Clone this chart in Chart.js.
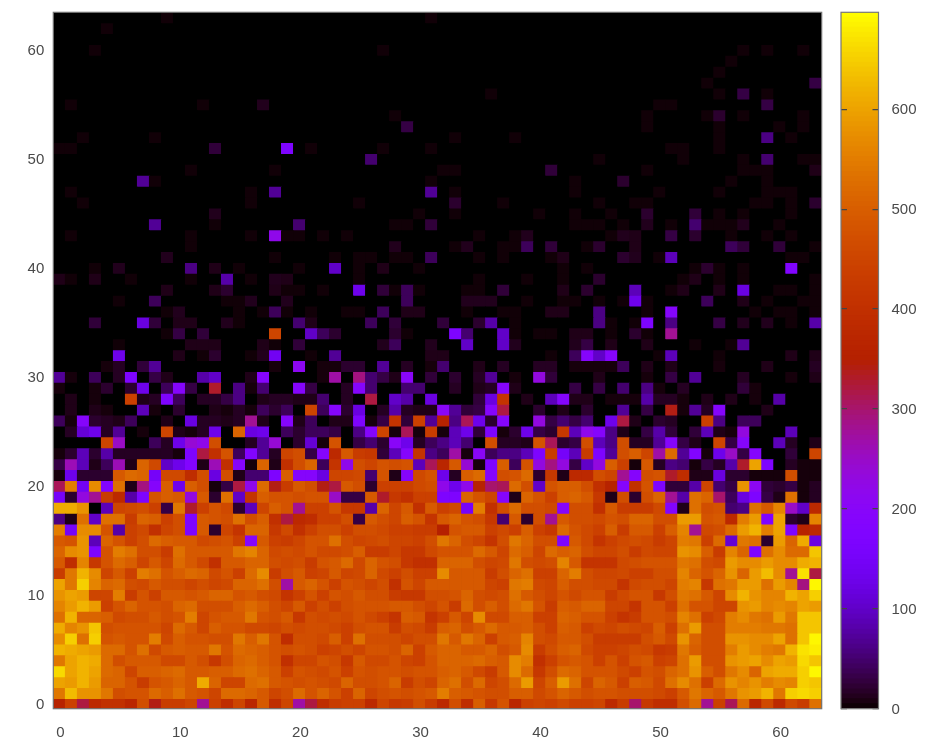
<!DOCTYPE html>
<html><head><meta charset="utf-8">
<script src="https://cdn.jsdelivr.net/npm/chart.js@4"></script>
<style>
html,body{margin:0;padding:0;background:#fff;overflow:hidden}
#wrap{position:relative;width:928px;height:739px}
canvas{position:absolute;top:0;filter:blur(0.6px)}
#main{left:0}
#bar{left:830px}
</style></head><body>
<div id="wrap"><canvas id="main" width="928" height="739"></canvas><canvas id="bar" width="98" height="739"></canvas></div>
<script>
const row0=[360,440,320,380,400,400,370,470,340,430,430,450,280,440,390,450,370,490,390,450,270,320,
390,430,440,440,380,450,420,430,470,430,380,470,390,500,420,480,370,440,450,440,460,440,
440,450,380,430,300,420,390,390,470,520,280,440,310,520,370,460,380,460,430,530];
const row1=[540,630,580,580,540,470,480,480,520,500,530,490,480,450,520,520,510,490,450,470,520,480,
510,480,440,510,450,470,480,470,480,490,550,500,490,480,470,470,500,500,460,480,510,490,
470,480,480,470,470,470,460,440,490,540,510,490,540,580,590,620,540,650,660,650];
const row2=[600,590,620,590,510,510,480,430,480,490,510,490,610,510,450,450,520,530,490,480,470,480,
470,460,510,470,470,480,510,430,470,450,510,530,470,520,450,470,520,590,450,500,590,530,
450,510,490,440,500,490,460,530,570,530,440,520,580,560,580,550,570,560,650,640];
const row3=[660,600,620,600,520,510,450,500,500,510,520,490,490,500,500,520,530,510,490,440,480,470,
460,480,440,480,470,480,480,470,480,480,500,510,490,460,430,490,570,520,420,470,520,510,
480,480,480,460,440,480,470,510,530,580,500,470,540,570,510,600,610,610,650,690];
const row4=[540,600,620,610,520,470,490,490,490,460,460,490,470,420,470,510,520,500,480,400,450,450,
480,470,420,490,460,460,480,450,440,480,510,510,510,520,500,490,570,550,400,440,480,490,
480,440,480,440,480,490,440,450,530,590,470,470,580,590,600,570,600,590,660,640];
const row5=[620,610,600,590,520,520,480,530,460,490,500,490,490,540,480,520,510,500,480,470,480,470,
440,450,470,450,480,480,470,510,440,490,510,510,490,490,510,470,490,570,430,470,500,510,
460,440,440,450,470,460,420,430,540,500,470,470,550,590,570,550,540,620,670,680];
const row6=[570,650,530,650,480,490,480,480,550,460,500,480,480,470,470,540,500,540,480,390,470,470,
460,500,440,530,470,470,470,450,470,470,540,490,540,510,440,490,500,560,470,460,490,490,
470,430,430,430,430,470,490,460,580,510,470,470,580,580,570,570,600,530,640,690];
const row7=[610,560,580,640,470,480,480,480,480,450,520,490,450,500,480,480,460,460,450,470,460,470,
470,460,440,470,480,480,430,470,460,430,500,510,470,490,520,490,490,500,470,440,500,490,
440,460,450,470,460,450,500,440,530,590,470,470,550,550,550,540,540,530,640,640];
const row8=[530,620,510,510,500,460,470,470,490,470,480,550,450,480,490,490,540,480,470,490,420,470,
460,470,460,480,460,440,410,500,490,410,440,490,450,570,460,460,500,500,440,440,510,500,
480,480,440,410,430,480,480,470,560,530,440,460,550,570,540,530,590,540,640,640];
const row9=[560,590,620,590,440,480,510,480,480,470,510,520,470,470,470,500,520,500,470,450,490,440,
470,440,470,480,480,480,490,490,470,450,480,430,520,470,500,470,520,540,480,430,500,490,
510,510,450,450,410,480,480,440,530,480,480,450,450,580,590,560,570,560,600,590];
const row10=[580,600,590,450,450,550,430,480,440,490,490,480,490,510,510,480,490,470,460,410,440,480,
440,480,470,490,470,470,430,420,420,470,470,480,510,470,460,470,530,490,470,450,480,460,
480,480,430,460,480,480,420,470,540,530,490,450,570,620,580,560,560,620,600,650];
const row11=[600,540,650,560,510,520,470,460,490,470,470,450,470,450,460,510,510,530,470,270,490,510,
480,440,480,470,450,470,400,480,450,490,490,490,490,490,450,440,540,550,460,450,500,470,
470,460,460,410,460,470,470,450,550,560,420,530,540,590,590,530,590,560,290,690];
const row12=[430,540,620,570,450,490,440,550,530,480,500,520,510,460,480,440,520,570,430,470,490,440,
450,490,450,460,510,460,440,470,440,440,570,490,490,490,430,470,510,530,440,440,510,550,
470,450,450,460,440,440,470,470,560,510,480,510,580,510,590,630,570,280,670,320];
const row13=[490,390,560,420,480,520,500,450,490,450,520,490,460,400,490,490,510,510,470,460,470,430,
480,490,520,460,510,480,470,420,400,400,510,510,510,470,450,460,540,470,460,470,560,490,
410,410,410,460,470,480,480,480,540,530,470,460,590,570,570,590,570,570,610,620];
const row14=[510,570,580,170,480,550,530,470,470,430,530,490,490,490,490,540,560,510,460,470,460,480,
460,460,470,500,430,430,450,420,420,460,480,480,480,520,490,450,520,500,450,520,500,510,
470,450,450,470,430,460,450,450,580,570,500,430,560,510,170,530,570,520,520,640];
const row15=[490,480,580,90,510,480,440,470,520,500,490,490,460,470,480,440,190,490,440,430,450,480,
480,530,470,450,460,470,450,450,440,470,540,510,470,450,410,470,540,510,470,470,170,490,
460,410,440,460,470,460,430,450,550,540,440,520,110,540,530,20,590,510,610,120];
const row16=[550,150,570,570,480,80,440,460,400,450,470,170,490,20,450,410,510,510,420,460,400,440,
470,470,440,470,470,460,440,440,430,430,350,480,490,490,440,460,440,500,440,420,520,480,
460,440,500,430,490,490,440,500,560,280,460,470,520,590,620,550,600,170,360,380];
const row17=[60,10,530,100,530,530,430,510,500,440,470,170,490,480,470,530,470,500,400,320,380,390,
440,440,470,30,490,470,450,500,480,410,490,510,480,470,420,50,490,20,470,280,490,470,
470,460,480,470,510,510,470,470,590,590,480,490,380,550,590,170,600,20,10,560];
const row18=[610,610,580,0,90,450,460,470,440,30,540,330,440,480,460,20,90,450,500,480,280,440,
440,480,420,420,80,510,450,490,400,490,440,460,150,550,400,470,520,470,470,460,190,470,
470,400,490,430,430,430,460,180,10,530,470,480,50,60,530,490,560,250,100,380];
const row19=[150,20,230,280,430,380,80,170,480,500,490,230,490,20,530,100,410,500,480,480,470,480,
480,250,30,30,490,330,420,400,440,440,170,170,510,480,450,190,10,510,480,440,500,510,
490,420,10,470,20,470,510,280,80,530,510,300,40,120,170,30,10,530,5,15];
const row20=[310,550,140,570,180,530,10,290,190,500,130,500,470,5,30,320,220,520,340,430,490,470,
340,320,490,470,20,440,440,440,460,470,220,130,220,360,300,310,520,470,100,480,500,500,
470,400,360,190,400,480,170,25,25,80,450,50,30,580,210,25,20,30,5,15];
const row21=[5,130,20,20,20,490,520,510,150,460,460,390,470,120,470,10,50,50,170,500,190,190,
120,450,450,460,50,480,10,190,460,480,130,15,500,520,190,470,480,520,20,420,10,380,
380,470,450,280,190,470,480,330,390,10,10,120,20,20,5,5,5,470,5,5];
const row22=[30,260,90,10,40,260,10,510,460,100,130,180,10,260,400,190,5,510,10,400,470,510,
40,410,220,470,450,480,470,480,90,310,370,490,240,5,170,500,40,480,230,290,230,30,
100,230,500,440,5,490,15,60,50,5,30,15,80,330,600,170,0,15,5,5];
const row23=[5,20,90,20,80,15,15,15,15,15,5,170,320,400,480,40,180,70,15,450,470,30,
190,380,490,430,420,25,90,190,410,60,40,270,5,200,40,60,60,90,170,430,150,90,
430,170,70,470,500,450,270,520,70,180,5,130,250,30,190,0,0,25,0,450];
const row24=[0,0,0,0,450,250,0,0,40,15,130,240,220,470,0,0,15,70,240,0,20,110,
5,480,0,30,50,20,200,130,15,40,60,90,50,0,470,15,15,10,480,310,20,30,
470,90,60,470,15,15,70,190,30,10,0,450,30,190,0,0,90,15,0,10];
const row25=[0,15,110,130,15,70,0,5,0,450,10,5,15,130,0,510,120,130,0,40,20,40,
40,30,0,60,190,450,5,310,5,430,5,90,130,25,170,5,20,130,30,20,420,90,
220,190,60,10,0,30,80,25,0,25,90,10,5,230,0,0,0,90,0,0];
const row26=[40,5,190,20,15,10,40,0,0,10,0,120,15,15,10,15,280,10,0,190,10,40,
0,10,10,170,5,30,410,25,440,70,360,60,310,130,20,190,0,0,230,30,50,30,
50,0,130,320,10,0,20,15,0,0,440,60,0,40,40,0,0,0,0,0];
const row27=[0,10,0,10,5,0,0,90,5,0,20,0,0,10,5,15,5,40,20,40,0,450,
40,190,20,120,0,15,80,15,10,10,200,70,25,30,190,320,0,0,20,0,10,0,
20,0,0,70,0,30,0,340,5,70,15,190,0,0,0,10,0,0,0,0];
const row28=[0,10,0,5,0,0,440,10,15,170,40,0,15,15,30,60,0,10,15,15,10,10,
50,0,15,0,320,0,100,80,0,120,0,0,0,25,120,410,0,10,0,90,190,10,
10,0,5,5,5,80,15,15,5,0,10,0,10,0,5,0,80,0,0,0];
const row29=[5,0,0,5,20,0,20,130,0,40,190,30,0,330,0,60,5,50,0,0,190,30,
0,0,15,190,50,0,0,50,50,0,0,15,0,10,15,190,10,0,0,0,0,30,
0,30,0,50,0,60,5,0,15,0,0,0,0,25,5,0,0,0,0,0];
const row30=[70,5,0,40,0,15,170,0,30,10,0,0,80,100,0,0,10,190,0,0,0,0,
5,270,0,290,50,30,10,200,0,25,0,20,0,15,70,0,5,0,230,25,0,0,
0,10,0,0,0,5,0,30,0,70,0,0,0,15,0,0,0,5,0,10];
const row31=[0,0,0,0,5,15,0,25,70,0,0,0,0,0,0,0,0,0,5,0,210,0,
5,5,20,20,0,70,0,15,0,5,50,0,0,10,0,15,0,0,15,15,0,5,
5,5,5,40,0,10,0,10,0,0,0,5,0,0,0,10,0,0,0,15];
const denseRows=[row0,row1,row2,row3,row4,row5,row6,row7,row8,row9,row10,row11,row12,row13,row14,row15,row16,row17,row18,row19,row20,row21,row22,row23,row24,row25,row26,row27,row28,row29,row30,row31];
// upper, mostly black rows: [column, value, column, value, ...]
const sparse32=[5,130,10,10,12,3,13,20,16,3,17,12,18,140,21,3,23,70,31,10,32,10,41,3,43,40,44,190,45,100,46,190,50,3,51,90,55,3,61,10,63,10];
const sparse33=[5,3,11,10,12,10,13,10,17,10,18,3,20,25,27,12,28,40,31,12,34,100,37,100,38,12,43,12,44,30,46,10,49,10,53,3,56,3,57,70];
const sparse34=[9,3,10,30,12,25,18,450,21,100,22,40,23,20,28,20,29,3,33,170,34,50,37,100,38,3,40,3,41,3,43,10,44,10,46,3,48,20,49,3,51,280];
const sparse35=[3,25,7,120,8,25,10,10,11,10,14,12,15,3,20,50,21,10,26,40,28,25,32,25,35,20,36,80,38,3,45,60,46,3,48,3,49,170,51,60,55,30,57,12,59,12,61,3,63,80];
const sparse36=[9,3,10,12,15,3,17,3,18,40,19,3,21,3,24,3,25,3,27,40,29,10,30,10,34,3,37,3,38,3,41,10,42,10,45,60,49,3,51,190,58,3,60,3,61,3,63,3];
const sparse37=[5,3,8,40,14,3,15,3,16,12,19,12,29,40,34,12,35,12,36,12,39,3,42,3,43,3,45,3,47,3,48,130,49,3,54,40,57,10,59,3,62,3,63,3];
const sparse38=[9,10,13,10,14,20,18,10,19,3,20,3,22,3,25,130,27,25,28,3,29,40,30,3,34,3,35,3,37,25,42,10,44,20,48,90,51,3,52,10,55,10,57,120,60,3,61,3,63,3];
const sparse39=[0,10,1,3,3,10,6,3,11,3,14,80,16,3,18,12,19,10,25,3,35,3,39,3,42,3,45,20,52,3,53,10,55,3,57,3,63,3];
const sparse40=[3,3,5,12,11,60,13,10,15,3,20,3,23,100,25,3,27,10,30,3,42,3,44,3,53,3,54,20,55,3,57,3,61,180];
const sparse41=[9,12,18,3,23,3,25,3,26,3,28,3,29,3,31,40,35,3,37,3,41,3,42,10,47,20,48,12,50,3,51,90,61,3,62,3];
const sparse42=[11,3,28,12,33,3,34,12,37,3,38,3,39,40,41,25,44,3,45,20,48,10,56,40,57,25,60,25,63,3];
const sparse43=[1,3,11,3,16,3,18,220,19,3,20,3,22,3,24,3,35,3,38,3,39,12,46,3,47,12,48,10,51,30,53,20,56,3,59,3,61,3];
const sparse44=[8,70,13,3,20,50,28,3,29,3,31,25,43,3,44,3,45,3,47,3,49,12,51,3,53,50,54,3,55,3,56,3,57,12,60,3];
const sparse45=[13,12,30,3,33,3,40,3,43,3,46,3,49,20,53,25,55,3,57,3,61,3];
const sparse46=[2,3,16,3,25,3,33,20,37,3,45,3,48,3,49,3,58,3,59,3,61,3,63,20];
const sparse47=[1,3,16,3,18,70,31,70,33,3,43,3,50,3,55,3,59,3,60,3,61,3];
const sparse48=[7,70,8,3,31,3,43,3,47,20,56,3,59,3];
const sparse49=[11,3,18,3,32,3,33,3,41,25,49,3,57,3,58,3,59,3,63,10];
const sparse50=[26,50,45,3,52,3,57,3,59,50,62,3,63,3];
const sparse51=[0,3,1,3,13,25,19,170,21,3,27,3,31,3,51,3,52,3,55,3];
const sparse52=[2,3,8,3,33,3,38,3,55,3,59,60,61,3];
const sparse53=[29,30,49,3,55,3,60,3,62,3];
const sparse54=[28,3,49,3,54,3,55,20,57,3,62,3];
const sparse55=[1,3,12,3,17,12,50,3,51,3,59,30];
const sparse56=[36,3,55,3,57,30,59,3];
const sparse57=[54,3,63,30];
const sparse58=[55,3];
const sparse59=[56,3];
const sparse60=[3,3,27,3,57,3,59,3,62,3];
const sparse61=[];
const sparse62=[4,3];
const sparse63=[9,3,31,3];
const sparseRows=[sparse32,sparse33,sparse34,sparse35,sparse36,sparse37,sparse38,sparse39,sparse40,sparse41,sparse42,sparse43,sparse44,sparse45,sparse46,sparse47,sparse48,sparse49,sparse50,sparse51,sparse52,sparse53,sparse54,sparse55,sparse56,sparse57,sparse58,sparse59,sparse60,sparse61,sparse62,sparse63];
const xLabels=Array.from({length:64},(_,i)=>String(i));
const yTicksStep=10;
const cbMax=697;
const cbTickValues=[0,100,200,300,400,500,600];

function expand(p){const r=new Array(64).fill(0);for(let i=0;i<p.length;i+=2)r[p[i]]=p[i+1];return r;}
const allRows=denseRows.concat(sparseRows.map(expand));
function cmap(v){ // gnuplot rgbformulae 7,5,15
  const x=Math.max(0,Math.min(1,v/cbMax));
  const r=Math.sqrt(x),g=x*x*x,b=Math.max(0,Math.sin(2*Math.PI*x));
  return `rgb(${Math.round(r*255)},${Math.round(g*255)},${Math.round(b*255)})`;
}
const FONT="'Liberation Sans',sans-serif";
const TXT='#4a4a4a';
const frame={id:'frame',
  beforeDatasetsDraw(c){const a=c.chartArea,g=c.ctx;g.save();g.fillStyle='#000';if(c.canvas.id==='main')g.fillRect(a.left,a.top,a.width,a.height);g.restore();},
  afterDraw(c){const a=c.chartArea,g=c.ctx;g.save();g.strokeStyle='#777';g.lineWidth=1.2;g.strokeRect(a.left,a.top,a.width,a.height);g.restore();}};
function noPad(s){s.paddingTop=0;s.paddingBottom=0;s.paddingLeft=0;s.paddingRight=0;}

new Chart(document.getElementById('main'),{
  type:'bar',plugins:[frame],
  data:{labels:xLabels,datasets:allRows.map((vals,y)=>({
    data:vals.map(()=>[y-0.5,y+0.5]),
    backgroundColor:vals.map(cmap),borderWidth:0,inflateAmount:0.4,
    barPercentage:1,categoryPercentage:1}))},
  options:{responsive:false,animation:false,devicePixelRatio:1,
    layout:{padding:{top:12.3,right:106.3,left:0,bottom:0}},
    plugins:{legend:{display:false},tooltip:{enabled:false},title:{display:false}},
    scales:{
      x:{stacked:true,grid:{display:false},border:{display:false},
        afterFit(s){s.height=30.3;noPad(s);},
        ticks:{autoSkip:false,maxRotation:0,minRotation:0,padding:7,labelOffset:1,color:TXT,font:{family:FONT,size:15},
          callback(v,i){return i%yTicksStep===0?xLabels[i]:'';}}},
      y:{min:-0.358,max:63.53,grid:{display:false},border:{display:false},
        afterFit(s){s.width=53.3;noPad(s);},
        ticks:{stepSize:yTicksStep,includeBounds:false,padding:1,color:TXT,font:{family:FONT,size:15}}}
    }}
});

const cbSteps=Array.from({length:140},(_,i)=>i*cbMax/140);
new Chart(document.getElementById('bar'),{
  type:'bar',plugins:[frame],
  data:{labels:['cb'],datasets:cbSteps.map(v=>({
    data:[[v,v+cbMax/140]],backgroundColor:cmap(v+cbMax/280),borderWidth:0,inflateAmount:0.4,
    barPercentage:1,categoryPercentage:1}))},
  options:{responsive:false,animation:false,devicePixelRatio:1,
    layout:{padding:{top:12.3,right:0,left:11,bottom:30.3}},
    plugins:{legend:{display:false},tooltip:{enabled:false}},
    scales:{
      x:{stacked:true,display:false},
      y:{position:'right',min:0,max:cbMax,border:{display:false,dash:[6,25.5]},
        grid:{z:1,color:'#444',lineWidth:1.2,drawTicks:false},
        afterFit(s){s.width=49.5;noPad(s);},
        afterBuildTicks(s){s.ticks=cbTickValues.map(v=>({value:v}));},
        ticks:{padding:13,labelOffset:1,color:TXT,font:{family:FONT,size:15}}}
    }}
});
</script>
</body></html>
